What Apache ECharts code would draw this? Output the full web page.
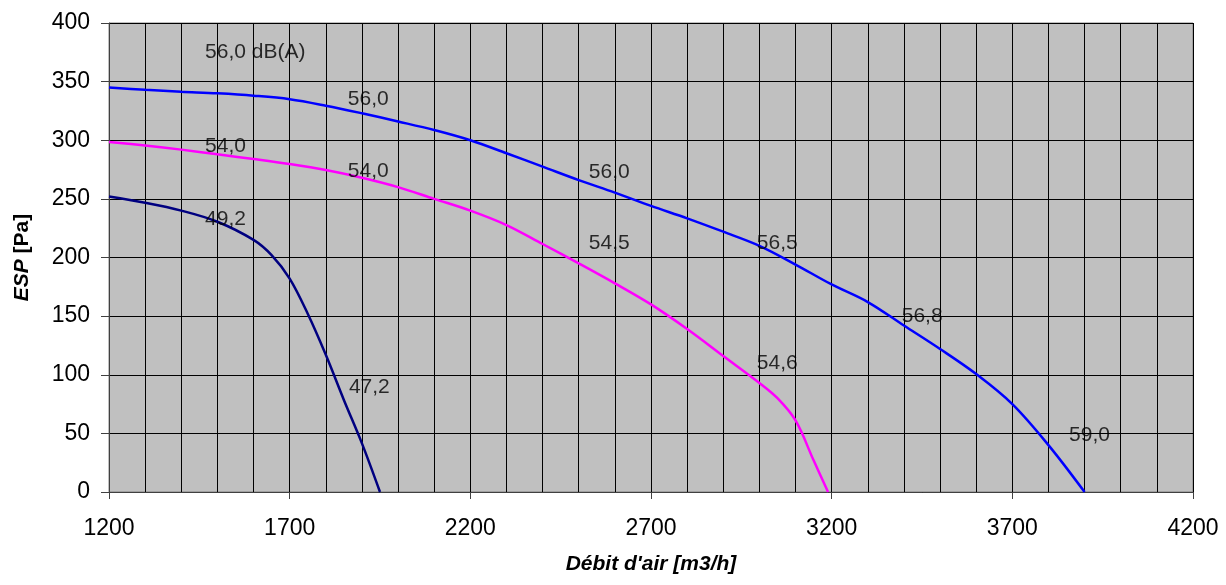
<!DOCTYPE html>
<html>
<head>
<meta charset="utf-8">
<script src="https://cdn.jsdelivr.net/npm/echarts@6/dist/echarts.min.js"></script>
<style>html,body{margin:0;padding:0;background:#fff}#c{width:1226px;height:585px}</style>
</head>
<body>
<div id="c"></div>
<script>
// Curve 56 dB(A) (blue)
const blueX = [1200,1300,1400,1500,1600,1700,1800,1900,2000,2100,2200,2300,2400,2500,2600,2700,2800,2900,3000,3100,3200,3300,3400,3500,3600,3700,3800,3900];
const blueY = [345,343,341.4,340,338,335,329.5,323,316,308.7,300,288.9,277.5,266,255.3,244,233.4,222,210,194,177,162,142,122,100.6,75,40,0];
// Curve 54 dB(A) (magenta)
const magX = [1200,1300,1400,1500,1600,1700,1800,1900,2000,2100,2200,2300,2400,2500,2600,2700,2800,2900,3000,3050,3100,3150,3190];
const magY = [298.5,295.5,292,288,284,279.7,274.6,268,260,250,240,227.7,211.5,195,178,160,139,116,93,80,61,27,0];
// Curve 49 dB(A) (navy)
const navyX = [1200,1300,1400,1500,1600,1650,1700,1750,1800,1850,1900,1950];
const navyY = [252,246.7,240,230.5,215,202,182,152,117,78.5,41.5,0];
// Sound level labels
const labelX = [1466,1861,1466,1861,1466,1864,2528,2528,2993,2993,3394,3857];
const labelY = [375,335,294.5,274,232.5,89,273,212,212,110,150,48.6];
const labelText = ['56,0 dB(A)','56,0','54,0','54,0','49,2','47,2','56,0','54,5','56,5','54,6','56,8','59,0'];
// Axes
const xMin = 1200, xMax = 4200, xStep = 500;
const yMin = 0, yMax = 400, yStep = 50;
const xTitle = "Débit d'air [m3/h]";
const yTitleItalic = 'ESP';
const yTitleUpright = ' [Pa]';

const zip = (xs, ys) => xs.map((x, i) => [x, ys[i]]);
const font = "'Liberation Sans', Arial, sans-serif";

const chart = echarts.init(document.getElementById('c'), null, {renderer: 'canvas'});
chart.setOption({
  animation: false,
  grid: {left: 109, right: 33, top: 23, bottom: 93, show: true, backgroundColor: '#c0c0c0', borderColor: '#808080', borderWidth: 1},
  xAxis: {
    type: 'value', min: xMin, max: xMax, interval: xStep,
    name: xTitle, nameLocation: 'middle', nameGap: 62,
    nameTextStyle: {fontFamily: font, fontSize: 21, fontWeight: 'bold', fontStyle: 'italic', color: '#000'},
    axisLine: {show: true, lineStyle: {color: '#404040', width: 1}},
    axisTick: {show: true, length: 7, lineStyle: {color: '#404040'}},
    minorTick: {show: false, splitNumber: 5},
    axisLabel: {fontFamily: font, fontSize: 23, color: '#000', margin: 25, formatter: v => String(v)},
    splitLine: {show: true, lineStyle: {color: '#000', width: 1}},
    minorSplitLine: {show: true, lineStyle: {color: '#000', width: 1}}
  },
  yAxis: {
    type: 'value', min: yMin, max: yMax, interval: yStep,
    name: '{i|' + yTitleItalic + '}{u|' + yTitleUpright + '}', nameLocation: 'middle', nameGap: 76, nameRotate: 90,
    nameTextStyle: {fontFamily: font, fontSize: 21, fontWeight: 'bold', color: '#000',
      rich: {i: {fontFamily: font, fontSize: 21, fontWeight: 'bold', fontStyle: 'italic', color: '#000'},
             u: {fontFamily: font, fontSize: 21, fontWeight: 'bold', color: '#000'}}},
    axisLine: {show: true, lineStyle: {color: '#404040', width: 1}},
    axisTick: {show: true, length: 8, lineStyle: {color: '#404040'}},
    axisLabel: {fontFamily: font, fontSize: 23, color: '#000', margin: 19},
    splitLine: {show: true, lineStyle: {color: '#000', width: 1}}
  },
  series: [
    {type: 'line', data: zip(blueX, blueY), smooth: 0.35, showSymbol: false, lineStyle: {color: '#0000ff', width: 2.5}, z: 3},
    {type: 'line', data: zip(magX, magY), smooth: 0.35, showSymbol: false, lineStyle: {color: '#ff00ff', width: 2.5}, z: 3},
    {type: 'line', data: zip(navyX, navyY), smooth: 0.35, showSymbol: false, lineStyle: {color: '#000080', width: 2.5}, z: 3},
    {type: 'scatter', symbolSize: 0, silent: true, z: 4,
     data: labelX.map((x, i) => ({value: [x, labelY[i]], name: labelText[i]})),
     label: {show: true, position: [0, 0], align: 'left', verticalAlign: 'middle', formatter: p => p.name,
             fontFamily: font, fontSize: 21, color: '#000'}}
  ]
});
</script>
</body>
</html>
